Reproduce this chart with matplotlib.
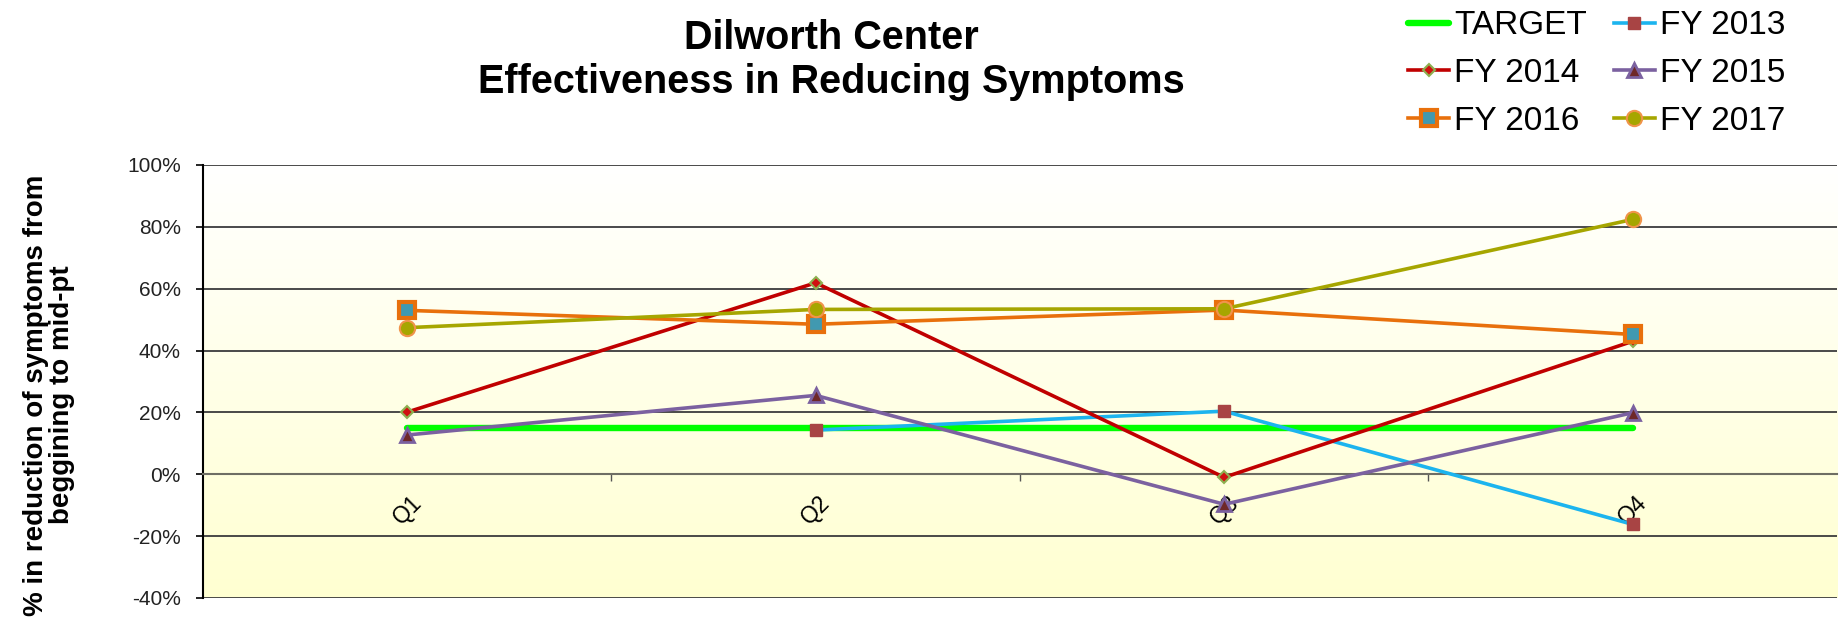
import matplotlib
matplotlib.use("Agg")
import matplotlib.pyplot as plt
import numpy as np

plt.rcParams['font.family'] = ['Liberation Sans', 'DejaVu Sans']

# data (fractions)
quarters = ['Q1', 'Q2', 'Q3', 'Q4']
target = [0.15, 0.15, 0.15, 0.15]
fy2013 = [np.nan, 0.143, 0.204, -0.162]
fy2014 = [0.201, 0.619, -0.01, 0.43]
fy2015 = [0.127, 0.255, -0.097, 0.199]
fy2016 = [0.53, 0.485, 0.531, 0.452]
fy2017 = [0.474, 0.533, 0.535, 0.824]
yticks = [-0.4, -0.2, 0.0, 0.2, 0.4, 0.6, 0.8, 1.0]

fig = plt.figure(figsize=(18.43, 6.38), dpi=100)
ax = fig.add_axes([0.1101, 0.0627, 0.8866, 0.6787])
x = np.arange(len(quarters))

# background gradient white -> cream
grad = np.linspace(0, 1, 256).reshape(-1, 1)
top = np.array([1.0, 1.0, 1.0])
bot = np.array([1.0, 1.0, 0.82])
img = top + (bot - top) * grad
ax.imshow(img[:, None, :].repeat(2, axis=1), extent=[-0.5, 3.5, -0.4, 1.0],
          aspect='auto', origin='upper', zorder=0)

for yv in yticks:
    ax.axhline(yv, color='#3c3c3c', lw=1.3, zorder=1)

ax.plot(x, target, color='#00ff00', lw=4.6, solid_capstyle='round', zorder=2,
        label='TARGET')
ax.plot(x, fy2013, color='#1cb4ee', lw=2.6, marker='s', ms=8,
        mfc='#a84444', mec='#a84444', zorder=3, label='FY 2013')
ax.plot(x, fy2014, color='#c00000', lw=2.6, marker='D', ms=6,
        mfc='#d01010', mec='#8db050', mew=1.5, zorder=3, label='FY 2014')
ax.plot(x, fy2015, color='#7b61a0', lw=2.6, marker='^', ms=10,
        mfc='#6e2828', mec='#7b61a0', mew=2, zorder=3, label='FY 2015')
ax.plot(x, fy2016, color='#e8700c', lw=2.6, marker='s', ms=11,
        mfc='#4199b0', mec='#e8700c', mew=3, zorder=3, label='FY 2016')
ax.plot(x, fy2017, color='#a6a600', lw=2.6, marker='o', ms=11,
        mfc='#a6a600', mec='#f0944a', mew=1.5, zorder=4, label='FY 2017')

ax.set_xlim(-0.5, 3.5)
ax.set_ylim(-0.4, 1.0)
ax.set_yticks(yticks)
ax.set_yticklabels(['%d%%' % round(v * 100) for v in yticks],
                   fontsize=15, color='#222222')
ax.tick_params(axis='y', direction='out', length=5, width=1.2, pad=11)

ax.spines['top'].set_visible(False)
ax.spines['right'].set_visible(False)
ax.spines['left'].set_color('black')
ax.spines['left'].set_linewidth(1.5)
ax.spines['bottom'].set_position(('data', 0))
ax.spines['bottom'].set_color('#6e6e64')
ax.spines['bottom'].set_linewidth(1.5)

ax.set_xticks(x)
ax.set_xticklabels(quarters, rotation=45, ha='center', va='top', fontsize=16.5)
ax.set_xticks([0.5, 1.5, 2.5], minor=True)
ax.tick_params(axis='x', which='major', length=0, pad=12)
ax.tick_params(axis='x', which='minor', length=5, width=1, color='#555555',
               direction='out')

ax.set_ylabel('% in reduction of symptoms from\nbeggining to mid-pt',
              fontsize=20, fontweight='bold', linespacing=1.0)
ax.yaxis.set_label_coords(-0.078, 0.469)

fig.text(0.451, 0.97, 'Dilworth Center\nEffectiveness in Reducing Symptoms',
         ha='center', va='top', fontsize=28.5, fontweight='bold',
         linespacing=1.2)

h, l = ax.get_legend_handles_labels()
order = [0, 2, 4, 1, 3, 5]
fig.legend([h[i] for i in order], [l[i] for i in order], ncol=2,
           loc='upper left', bbox_to_anchor=(0.755, 1.01), frameon=False,
           fontsize=24, handlelength=1.23, handletextpad=0.15,
           columnspacing=0.8, labelspacing=0.5, borderaxespad=0.1)

fig.savefig('out.png', dpi=100)
